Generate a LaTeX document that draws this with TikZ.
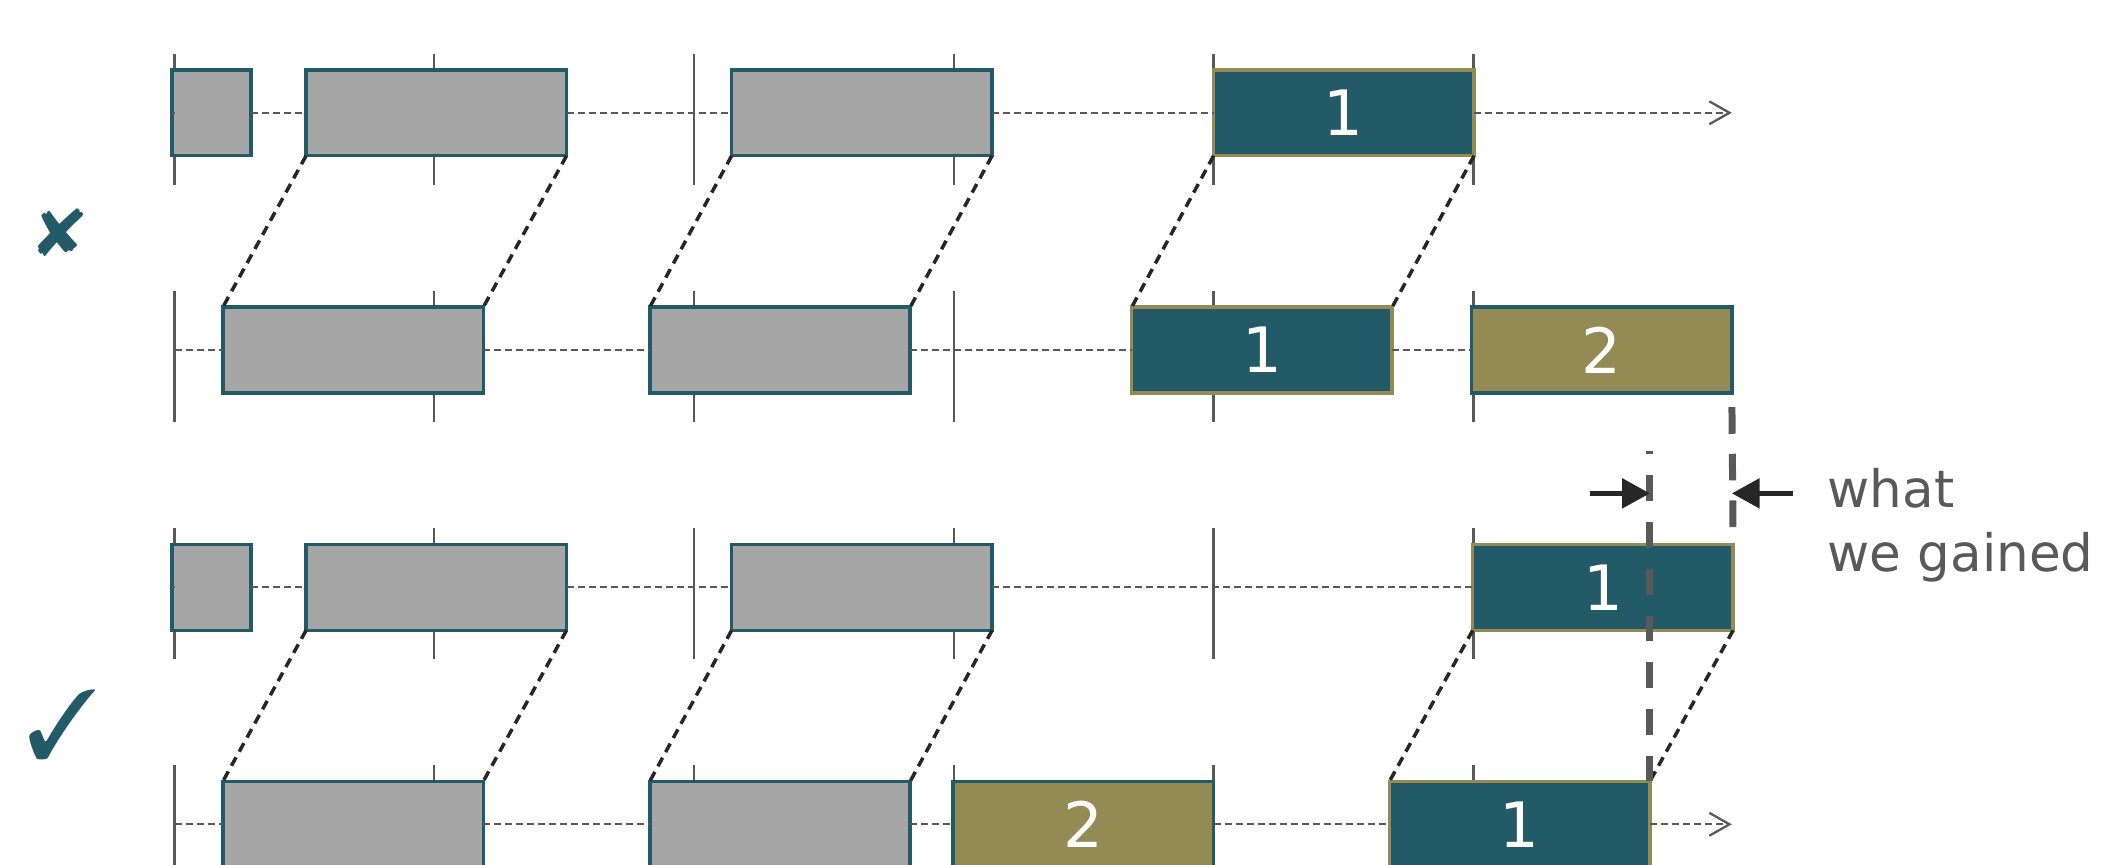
\documentclass[tikz,border=0pt]{standalone}
\usepackage{fontspec}
\setmainfont{DejaVu Sans}
\usepackage{graphicx}
\usepackage{pifont}
\usetikzlibrary{arrows.meta}
\definecolor{teal0}{HTML}{225B67}
\definecolor{olive0}{HTML}{948A54}
\definecolor{gfill}{HTML}{A6A6A6}
\definecolor{dgray}{HTML}{595959}
\definecolor{ink}{HTML}{262626}
\begin{document}
\begin{tikzpicture}[x=0.5pt,y=-0.5pt,
  box/.style={rectangle, inner sep=0pt, outer sep=0pt, line width=1.3pt, minimum height=32pt, anchor=west},
  graybox/.style={box, draw=teal0, fill=gfill, minimum width=97pt},
  smallbox/.style={box, draw=teal0, fill=gfill, minimum width=29.5pt},
  onebox/.style={box, draw=olive0, fill=teal0, minimum width=97pt, text=white, font=\fontsize{23.3pt}{28pt}\selectfont},
  twobox/.style={box, draw=teal0, fill=olive0, minimum width=97pt, text=white, font=\fontsize{23.3pt}{28pt}\selectfont},
  tickline/.style={draw=dgray, line width=0.85pt},
  timeline/.style={draw=dgray, line width=0.85pt, dash pattern=on 2.6pt off 1.5pt},
  tlarrow/.style={timeline, -{Straight Barb[length=7.5pt,width=8.5pt]}},
  link/.style={draw=ink, line width=1.3pt, dash pattern=on 3.6pt off 2.4pt},
  gainline/.style={draw=dgray, line width=2.6pt},
  dimarrow/.style={draw=ink, line width=2.1pt, -{Triangle[length=10.4pt,width=10.8pt]}},
  gaintext/.style={anchor=base west, inner sep=0pt, text=dgray, font=\fontsize{19.2pt}{24pt}\selectfont},
  signmark/.style={inner sep=0pt, text=teal0}
]
\useasboundingbox (0,0) rectangle (1568,644);

% ticks
\foreach \r in {84,260.8,437.5,614}{
  \foreach \x in {130,323.5,517,710.5,904,1097.5}{
    \draw[tickline] (\x,\r-44) -- (\x,\r+53.5);
  }
}

% timeline end points
\coordinate (t1s) at (130,84);   \coordinate (t1e) at (1290,84);
\coordinate (t2s) at (130,260.8);
\coordinate (t3s) at (130,437.5);
\coordinate (t4s) at (130,614);  \coordinate (t4e) at (1290,614);

% row 1
\node[smallbox] (a1) at (128,84) {};
\node[graybox] (a2) at (228,84) {};
\node[graybox] (a3) at (545,84) {};
\node[onebox] (a4) at (904,84) {1};
% row 2
\node[graybox] (b2) at (166,260.8) {};
\node[graybox] (b3) at (484,260.8) {};
\node[onebox] (b4) at (843,260.8) {1};
\node[twobox] (b5) at (1096,260.8) {2};
% row 3
\node[smallbox] (c1) at (128,437.5) {};
\node[graybox] (c2) at (228,437.5) {};
\node[graybox] (c3) at (545,437.5) {};
\node[onebox] (c4) at (1097,437.5) {1};
% row 4
\node[graybox] (d2) at (166,614) {};
\node[graybox] (d3) at (484,614) {};
\node[twobox] (d5) at (710,614) {2};
\node[onebox] (d4) at (1035,614) {1};

% timelines
\draw[timeline] (t1s) -- (a1.west);
\draw[timeline] (a1.east) -- (a2.west);
\draw[timeline] (a2.east) -- (a3.west);
\draw[timeline] (a3.east) -- (a4.west);
\draw[tlarrow] (a4.east) -- (t1e);

\draw[timeline] (t2s) -- (b2.west);
\draw[timeline] (b2.east) -- (b3.west);
\draw[timeline] (b3.east) -- (b4.west);
\draw[timeline] (b4.east) -- (b5.west);

\draw[timeline] (t3s) -- (c1.west);
\draw[timeline] (c1.east) -- (c2.west);
\draw[timeline] (c2.east) -- (c3.west);
\draw[timeline] (c3.east) -- (c4.west);

\draw[timeline] (t4s) -- (d2.west);
\draw[timeline] (d2.east) -- (d3.west);
\draw[timeline] (d3.east) -- (d5.west);
\draw[timeline] (d5.east) -- (d4.west);
\draw[tlarrow] (d4.east) -- (t4e);

% connectors
\draw[link] (a2.south west) -- (b2.north west);
\draw[link] (a2.south east) -- (b2.north east);
\draw[link] (a3.south west) -- (b3.north west);
\draw[link] (a3.south east) -- (b3.north east);
\draw[link] (a4.south west) -- (b4.north west);
\draw[link] (a4.south east) -- (b4.north east);
\draw[link] (c2.south west) -- (d2.north west);
\draw[link] (c2.south east) -- (d2.north east);
\draw[link] (c3.south west) -- (d3.north west);
\draw[link] (c3.south east) -- (d3.north east);
\draw[link] (c4.south west) -- (d4.north west);
\draw[link] (c4.south east) -- (d4.north east);

% gain lines
\path (d4.north east) ++(0,-246.3) coordinate (gtop);
\draw[gainline, dash pattern=on 9.94pt off 7.45pt, dash phase=12.18pt] (b5.south east) -- (c4.north east);
\draw[gainline, dash pattern=on 9.57pt off 7.82pt] (d4.north east) -- (gtop);

% dimension arrows
\coordinate (dimL) at (1184.4,367.5);
\coordinate (dimR) at (1335.6,367.5);
\draw[dimarrow] (dimL) -- (dimL -| gtop);
\draw[dimarrow] (dimR) -- (dimR -| b5.south east);

% text
\node[gaintext] (gain1) at (1361,378) {what};
\node[gaintext] (gain2) at (1361,426) {we gained};

% marks
\node[signmark] (cross) at (45.8,173.2) {\resizebox{19pt}{17.5pt}{\ding{56}}};
\node[signmark] (check) at (46.9,540) {\resizebox{26.8pt}{25.7pt}{\ding{51}}};
\end{tikzpicture}
\end{document}
